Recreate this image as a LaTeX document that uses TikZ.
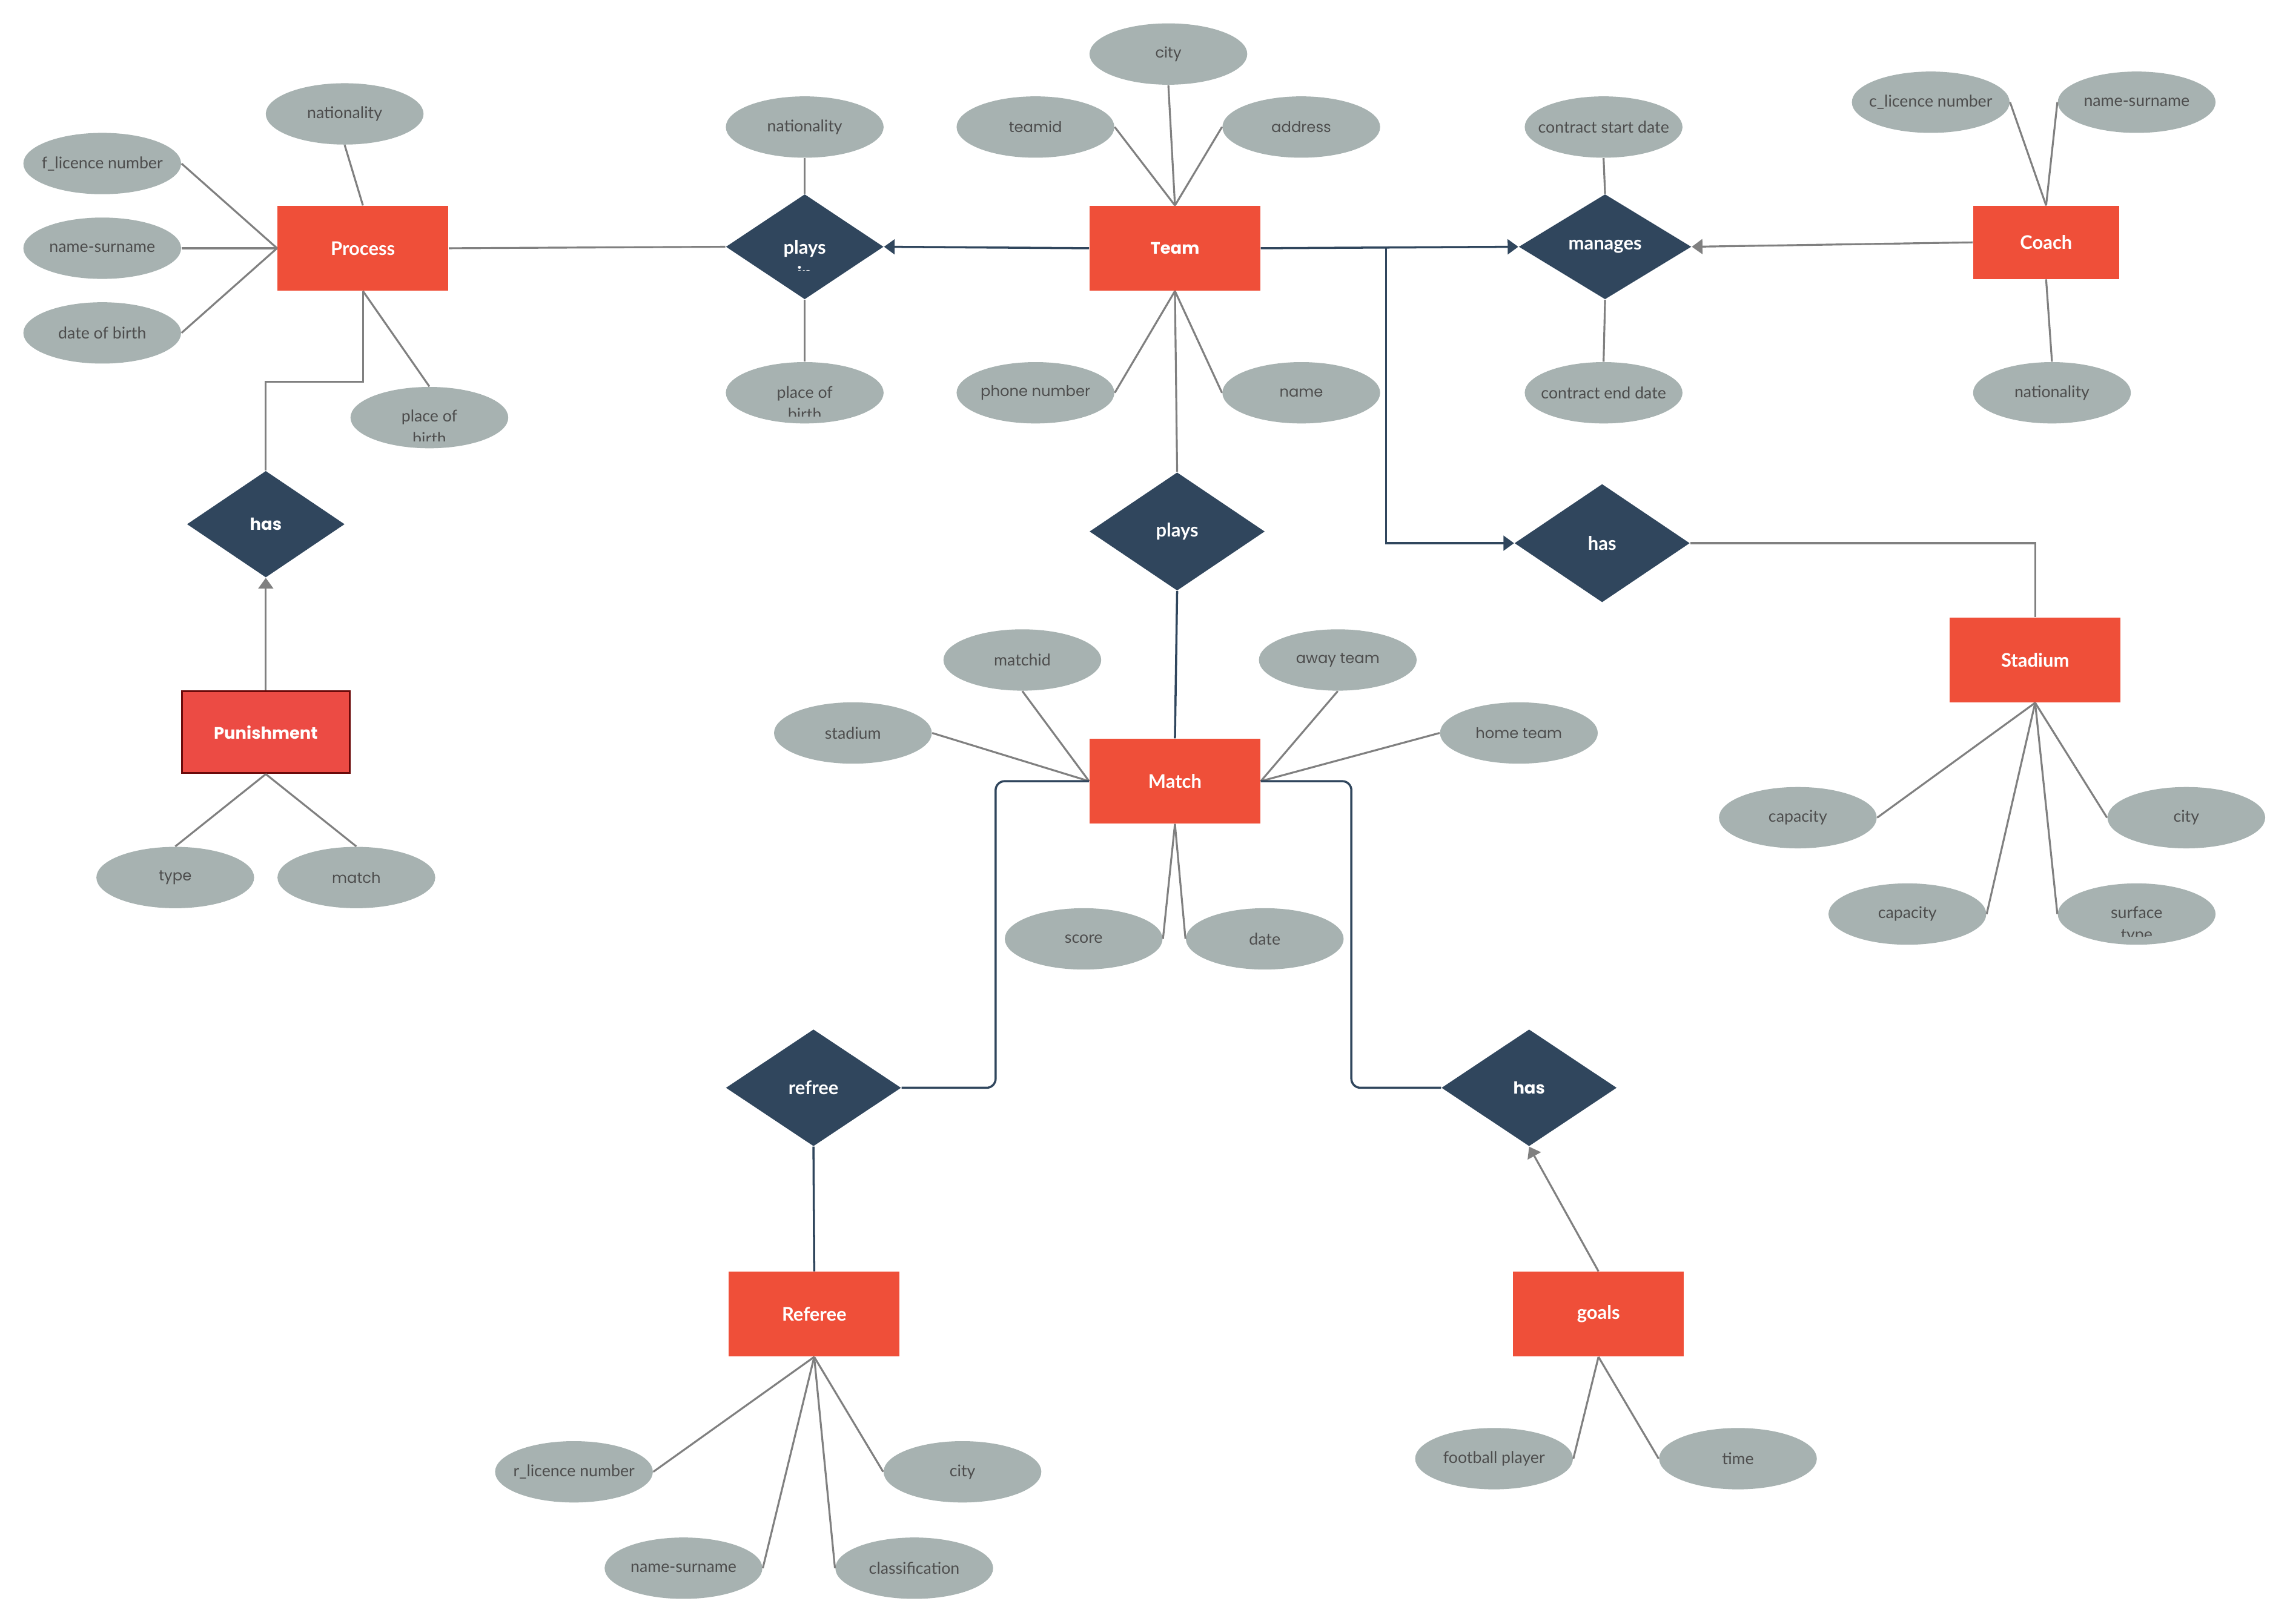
\documentclass[tikz,border=0pt]{standalone}
\usepackage{fontspec}
\setmainfont{Lato}
\newfontfamily\geo{Poppins}
\usetikzlibrary{shapes.geometric,arrows.meta}
\definecolor{entred}{HTML}{EF4F39}
\definecolor{punred}{HTML}{EC4B44}
\definecolor{punborder}{HTML}{6B0A0A}
\definecolor{relblue}{HTML}{30465D}
\definecolor{attrgray}{HTML}{A7B2B1}
\definecolor{attrtext}{HTML}{4D4D4D}
\definecolor{linegray}{HTML}{808080}
\tikzset{
  attr/.style={ellipse, fill=attrgray, draw=none, minimum width=2.604cm, minimum height=1.013cm, inner sep=0pt},
  attrlbl/.style={text=attrtext, font=\fontsize{7.6}{9}\selectfont, inner sep=0pt},
  attrgeolbl/.style={text=attrtext, font=\geo\fontsize{6.9}{9}\selectfont, inner sep=0pt},
  entity/.style={rectangle, fill=entred, draw=none, minimum width=2.821cm, minimum height=1.399cm, inner sep=0pt, text=white, font=\bfseries\fontsize{8.8}{10}\selectfont},
  geoentity/.style={entity, font=\geo\bfseries\fontsize{7.8}{10}\selectfont},
  rel/.style={diamond, fill=relblue, draw=none, inner sep=0pt, text=white, font=\bfseries\fontsize{8.8}{10}\selectfont},
  georel/.style={rel, font=\geo\bfseries\fontsize{7.8}{10}\selectfont},
  gline/.style={draw=linegray, line width=0.9pt},
  dline/.style={draw=relblue, line width=1pt},
  tip/.style={-{Triangle[length=5pt,width=7pt]}},
}
\newcommand\attrnode[4]{\node[attr,label={[attrlbl]center:#4}] (#1) at (#2,#3) {};}
\newcommand\attrgeo[4]{\node[attr,label={[attrgeolbl]center:#4}] (#1) at (#2,#3) {};}
\begin{document}
\begin{tikzpicture}[x=0.024113cm, y=-0.024113cm]
\useasboundingbox (0,0) rectangle (1568,1112);

% ---------------- entities
\node[entity] (process) at (248.5,170) {Process};
\node[geoentity] (team) at (804.5,170) {Team};
\node[entity, minimum width=2.411cm, minimum height=1.206cm] (coach) at (1401,166) {Coach};
\node[entity] (match) at (804.5,535) {Match};
\node[entity] (stadium) at (1393.5,452) {Stadium};
\node[geoentity, fill=punred, draw=punborder, line width=0.9pt, minimum width=2.77cm, minimum height=1.35cm] (punish) at (182,501.5) {Punishment};
\node[entity] (referee) at (557.5,900) {Referee};
\node[entity] (goals) at (1094.5,900) {goals};

% ---------------- relationships
\node[rel, minimum width=2.604cm, minimum height=1.736cm] (playsin) at (551,169) {};
\node[rel, minimum width=2.85cm, minimum height=1.736cm] (manages) at (1099,169) {manages};
\node[rel, minimum width=2.894cm, minimum height=1.953cm] (plays) at (806,364) {plays};
\node[rel, minimum width=2.894cm, minimum height=1.953cm] (hasst) at (1097,372) {has};
\node[georel, minimum width=2.604cm, minimum height=1.76cm] (haspun) at (182,359) {has};
\node[rel, minimum width=2.894cm, minimum height=1.929cm] (refree) at (557,745) {refree};
\node[georel, minimum width=2.894cm, minimum height=1.929cm] (hasgoal) at (1047,745) {has};

% plays in label (second line cut off)
\node[text=white, font=\bfseries\fontsize{8.8}{10}\selectfont, anchor=base, inner sep=0pt] (playsin-t1) at (551,174) {plays};
\begin{scope}
  \clip (490,150) rectangle (612,185.3);
  \node[text=white, font=\bfseries\fontsize{8.8}{10}\selectfont, anchor=base, inner sep=0pt] (playsin-t2) at (551,192) {in};
\end{scope}

% ---------------- attributes of Process
\attrnode{pnat}{236}{78}{nationality}
\attrnode{pflic}{70}{112}{f\_licence number}
\attrnode{pname}{70}{170}{name-surname}
\attrnode{pdob}{70}{228}{date of birth}
\node[attr] (ppob) at (294,286) {};
\node[attrlbl, anchor=base] (ppob-t1) at (294,289) {place of};
\begin{scope}
  \clip (230,260) rectangle (360,302);
  \node[attrlbl, anchor=base] (ppob-t2) at (294,304) {birth};
\end{scope}

% ---------------- attributes of plays in
\attrnode{pinat}{551}{87}{nationality}
\node[attr] (pipob) at (551,269) {};
\node[attrlbl, anchor=base] (pipob-t1) at (551,272.5) {place of};
\begin{scope}
  \clip (490,240) rectangle (612,285.3);
  \node[attrlbl, anchor=base] (pipob-t2) at (551,287.5) {birth};
\end{scope}

% ---------------- attributes of Team
\attrgeo{tid}{709}{87}{teamid}
\attrgeo{tcity}{800}{37}{city}
\attrgeo{taddr}{891}{87}{address}
\attrgeo{tphone}{709}{269}{phone number}
\attrgeo{tname}{891}{269}{name}

% ---------------- attributes of manages
\attrnode{mstart}{1098}{87}{contract start date}
\attrnode{mend}{1098}{269}{contract end date}

% ---------------- attributes of Coach
\attrnode{clic}{1322}{70}{c\_licence number}
\attrnode{cname}{1463}{70}{name-surname}
\attrnode{cnat}{1405}{269}{nationality}

% ---------------- attributes of Match
\attrnode{mid}{700}{452}{matchid}
\attrnode{mstad}{584}{502}{stadium}
\attrgeo{maway}{916}{452}{away team}
\attrgeo{mhome}{1040}{502}{home team}
\attrnode{mscore}{742}{643}{score}
\attrnode{mdate}{866}{643}{date}

% ---------------- attributes of Stadium
\attrnode{scap1}{1231}{560}{capacity}
\attrnode{scap2}{1306}{626}{capacity}
\attrnode{scity}{1497}{560}{city}
\node[attr] (ssurf) at (1463,626) {};
\node[attrlbl, anchor=base] (ssurf-t1) at (1463,629) {surface};
\begin{scope}
  \clip (1400,600) rectangle (1530,641.5);
  \node[attrlbl, anchor=base] (ssurf-t2) at (1463,644) {type};
\end{scope}

% ---------------- attributes of Punishment
\attrgeo{ptype}{120}{601}{type}
\attrgeo{pmatch}{244}{601}{match}

% ---------------- attributes of Referee
\attrnode{rlic}{393}{1008}{r\_licence number}
\attrnode{rcity}{659}{1008}{city}
\attrnode{rname}{468}{1074}{name-surname}
\attrnode{rclass}{626}{1074}{classification}

% ---------------- attributes of goals
\attrnode{gplayer}{1023}{999}{football player}
\attrnode{gtime}{1190}{999}{time}

% ---------------- attribute connectors
\draw[gline] (pnat.south) -- (process.north);
\draw[gline] (pflic.east) -- (process.west);
\draw[gline] (pname.east) -- (process.west);
\draw[gline] (pdob.east) -- (process.west);
\draw[gline] (ppob.north) -- (process.south);

\draw[gline] (pinat.south) -- (playsin.north);
\draw[gline] (pipob.north) -- (playsin.south);

\draw[gline] (tid.east) -- (team.north);
\draw[gline] (tcity.south) -- (team.north);
\draw[gline] (taddr.west) -- (team.north);
\draw[gline] (tphone.east) -- (team.south);
\draw[gline] (tname.west) -- (team.south);

\draw[gline] (mstart.south) -- (manages.north);
\draw[gline] (mend.north) -- (manages.south);

\draw[gline] (clic.east) -- (coach.north);
\draw[gline] (cname.west) -- (coach.north);
\draw[gline] (cnat.north) -- (coach.south);

\draw[gline] (mid.south) -- (match.west);
\draw[gline] (mstad.east) -- (match.west);
\draw[gline] (maway.south) -- (match.east);
\draw[gline] (mhome.west) -- (match.east);
\draw[gline] (mscore.east) -- (match.south);
\draw[gline] (mdate.west) -- (match.south);

\draw[gline] (scap1.east) -- (stadium.south);
\draw[gline] (scap2.east) -- (stadium.south);
\draw[gline] (scity.west) -- (stadium.south);
\draw[gline] (ssurf.west) -- (stadium.south);

\draw[gline] (ptype.north) -- (punish.south);
\draw[gline] (pmatch.north) -- (punish.south);

\draw[gline] (rlic.east) -- (referee.south);
\draw[gline] (rname.east) -- (referee.south);
\draw[gline] (rclass.west) -- (referee.south);
\draw[gline] (rcity.west) -- (referee.south);

\draw[gline] (gplayer.east) -- (goals.south);
\draw[gline] (gtime.west) -- (goals.south);

% ---------------- relationship connectors
\draw[gline] (process.east) -- (playsin.west);
\draw[dline, tip] (team.west) -- (playsin.east);
\coordinate (tbranch) at (949,170);
\draw[dline, tip] (team.east) -- (manages.west);
\draw[dline, tip] (tbranch) |- (hasst.west);
\draw[gline, tip] (coach.west) -- (manages.east);
\draw[gline] (hasst.east) -| (stadium.north);
\draw[gline] (team.south) -- (plays.north);
\draw[dline] (plays.south) -- (match.north);
\draw[gline] (process.south) -- ++(0,62) -| (haspun.north);
\draw[gline, tip] (punish.north) -- (haspun.south);
\draw[dline, rounded corners=0.15cm] (match.west) -- ++(-64,0) |- (refree.east);
\draw[dline] (refree.south) -- (referee.north);
\draw[dline, rounded corners=0.15cm] (match.east) -- ++(62,0) |- (hasgoal.west);
\draw[gline, tip] (goals.north) -- (hasgoal.south);
\end{tikzpicture}
\end{document}
